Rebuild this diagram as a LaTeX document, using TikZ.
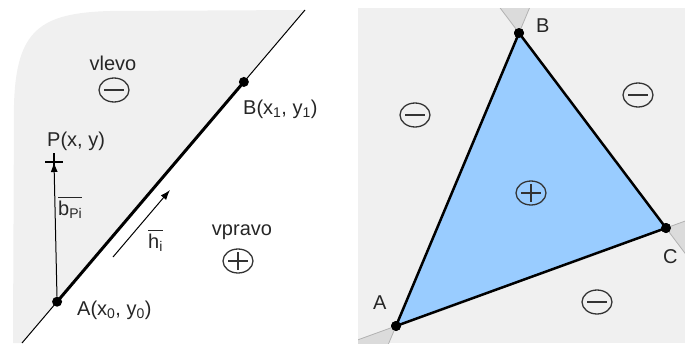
\documentclass[tikz,border=0pt]{standalone}
\usepackage{amsmath}
\usepackage{fontspec}
\setmainfont{Liberation Sans}
\usetikzlibrary{arrows.meta,shapes.geometric,calc}
\definecolor{triblue}{HTML}{99CCFF}

\begin{document}
\begin{tikzpicture}[x={(1pt,0)},y={(0,-1pt)},
  lbl/.style={font=\fontsize{20}{23}\selectfont,text=black!85,inner sep=0pt},
  vtx/.style={circle,fill=black,inner sep=0pt,minimum size=10pt},
  sgn/.style={ellipse,draw=black!80,line width=1.3pt,minimum width=30pt,minimum height=24pt,inner sep=0pt},
  signneg/.style={sgn,path picture={\draw[line width=1.3pt] ([xshift=-10pt]path picture bounding box.center) -- ([xshift=10pt]path picture bounding box.center);}},
  signpos/.style={sgn,path picture={\draw[line width=1.3pt] ([xshift=-10pt]path picture bounding box.center) -- ([xshift=10pt]path picture bounding box.center);
    \draw[line width=1.3pt] ([yshift=-9pt]path picture bounding box.center) -- ([yshift=9pt]path picture bounding box.center);}},
  tip/.style={-{Latex[length=10pt,width=7pt]}}]
\useasboundingbox (0,0) rectangle (685,343);
% left half: one edge and its half-planes
\coordinate (l0) at (22,343);
\coordinate (l1) at (305,10);
\fill[gray!12] (l1) -- (l0) -- (13,343) -- (14,105) .. controls (16,30) and (40,13) .. (110,11) -- cycle;
\draw[line width=1pt] (l0) -- (l1);
\node[vtx] (A) at ($(l0)!0.124!(l1)$) {};
\node[vtx] (B) at ($(l0)!0.784!(l1)$) {};
\draw[line width=3pt] (A.center) -- (B.center);
\coordinate (P) at (54,162);
\draw[line width=1.1pt] ($(P)+(-9,0)$) -- ($(P)+(9,0)$);
\draw[line width=1.1pt] ($(P)+(0,-9)$) -- ($(P)+(0,4)$);
\draw[tip,line width=1pt] (A) -- (P);
\coordinate (h0) at (113,257);
\coordinate (h1) at (170,190);
\draw[tip,line width=1pt] (h0) -- (h1);
\node[lbl,anchor=base] (vlevo) at (113,70) {vlevo};
\node[lbl,anchor=base] (vpravo) at (242,235) {vpravo};
\node[lbl,anchor=base west] (Blab) at (243,114) {B(x\textsubscript{1}, y\textsubscript{1})};
\node[lbl,anchor=base west] (Alab) at (77,315) {A(x\textsubscript{0}, y\textsubscript{0})};
\node[lbl,anchor=base west] (Plab) at (47,146) {P(x, y)};
\node[lbl,anchor=base west] (blab) at (58,215) {$\overline{\text{b}_{\text{Pi}}}$};
\node[lbl,anchor=base west] (hlab) at (148,248) {$\overline{\text{h}_{\text{i}}}$};
\node[signneg] (sl) at (114,90) {};
\node[signpos] (sr) at (238,261) {};
% right half: triangle as three half-planes
\fill[gray!12] (358,8) rectangle (685,343);
\node[vtx] (tA) at (396,326) {};
\node[vtx] (tB) at (519,33) {};
\node[vtx] (tC) at (666,228) {};
\begin{scope}
\clip (358,8) rectangle (685,343);
\foreach \v/\p/\q in {tA/tB/tC,tB/tC/tA,tC/tA/tB} {
  \filldraw[fill=gray!28,draw=gray!60,line width=0.8pt] (\v.center) -- ($(\v.center)!-0.3!(\p.center)$) -- ($(\v.center)!-0.3!(\q.center)$) -- cycle;
}
\end{scope}
\filldraw[fill=triblue,draw=black,line width=2.5pt,line join=round] (tA.center) -- (tB.center) -- (tC.center) -- cycle;
\foreach \v in {tA,tB,tC} {\fill (\v) circle (5pt);}
\node[lbl,anchor=base west] (Alet) at (373,309) {A};
\node[lbl,anchor=base west] (Blet) at (536,32) {B};
\node[lbl,anchor=base west] (Clet) at (663,263) {C};
\foreach \n/\x/\y in {n1/415/115,n2/638/95,n3/597/302} {\node[signneg] (\n) at (\x,\y) {};}
\node[signpos] (p1) at (531,193) {};
\end{tikzpicture}
\end{document}
